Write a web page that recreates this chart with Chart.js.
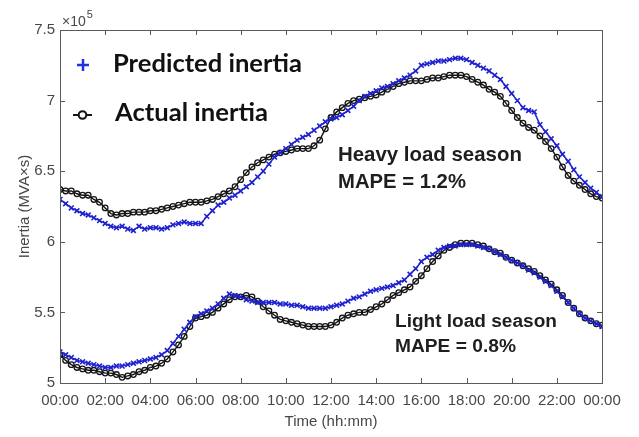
<!DOCTYPE html>
<html>
<head>
<meta charset="utf-8">
<script src="https://cdn.jsdelivr.net/npm/chart.js@4.4.1/dist/chart.umd.min.js"></script>
<style>
  html, body { margin: 0; padding: 0; background: #fff; }
  #wrap { width: 639px; height: 437px; }
</style>
</head>
<body>
<div id="wrap"><canvas id="inertia" width="639" height="437"></canvas></div>
<script>
// Inertia values in units of 1e5 MVA*s, one reading every 15 min (00:00 .. 24:00)
const STEP_H = 0.25;

const heavyActual = [
  6.37,6.36,6.36,6.34,6.33,6.33,6.30,6.28,
  6.24,6.20,6.19,6.20,6.20,6.21,6.21,6.21,
  6.22,6.22,6.23,6.24,6.25,6.26,6.27,6.28,
  6.28,6.28,6.29,6.30,6.32,6.34,6.36,6.39,
  6.44,6.49,6.53,6.56,6.58,6.60,6.62,6.63,
  6.64,6.65,6.66,6.66,6.66,6.68,6.72,6.80,
  6.88,6.92,6.95,6.98,7.00,7.01,7.02,7.03,
  7.04,7.06,7.08,7.10,7.12,7.13,7.14,7.14,
  7.14,7.15,7.16,7.16,7.17,7.18,7.18,7.18,
  7.17,7.15,7.13,7.11,7.08,7.06,7.03,6.98,
  6.93,6.88,6.84,6.81,6.79,6.75,6.71,6.66,
  6.60,6.53,6.47,6.43,6.40,6.37,6.34,6.32,
  6.31
];
const heavyPred = [
  6.30,6.27,6.24,6.22,6.20,6.19,6.17,6.15,
  6.13,6.11,6.10,6.11,6.09,6.08,6.11,6.09,
  6.10,6.10,6.09,6.10,6.12,6.13,6.14,6.13,
  6.13,6.13,6.18,6.22,6.26,6.28,6.31,6.33,
  6.36,6.39,6.42,6.46,6.50,6.55,6.60,6.63,
  6.66,6.69,6.72,6.74,6.76,6.79,6.82,6.85,
  6.87,6.88,6.90,6.93,6.96,7.00,7.03,7.05,
  7.07,7.09,7.10,7.12,7.14,7.16,7.18,7.21,
  7.25,7.26,7.27,7.28,7.28,7.29,7.30,7.30,
  7.29,7.27,7.25,7.23,7.21,7.18,7.15,7.10,
  7.05,7.00,6.95,6.93,6.92,6.83,6.78,6.73,
  6.68,6.62,6.57,6.51,6.46,6.42,6.38,6.35,
  6.32
];
const lightActual = [
  5.20,5.16,5.13,5.11,5.10,5.09,5.09,5.08,
  5.07,5.07,5.06,5.04,5.05,5.06,5.08,5.09,
  5.11,5.12,5.14,5.17,5.22,5.27,5.33,5.40,
  5.46,5.47,5.48,5.50,5.53,5.56,5.59,5.61,
  5.61,5.62,5.61,5.58,5.54,5.51,5.48,5.45,
  5.44,5.43,5.42,5.41,5.40,5.40,5.40,5.40,
  5.41,5.43,5.46,5.48,5.49,5.50,5.50,5.52,
  5.54,5.56,5.59,5.62,5.64,5.66,5.68,5.72,
  5.76,5.81,5.86,5.90,5.94,5.96,5.98,5.99,
  5.99,5.99,5.98,5.97,5.95,5.93,5.92,5.89,
  5.87,5.85,5.83,5.81,5.79,5.76,5.73,5.70,
  5.66,5.62,5.57,5.53,5.49,5.46,5.44,5.42,
  5.41
];
const lightPred = [
  5.22,5.20,5.18,5.16,5.15,5.14,5.13,5.12,
  5.11,5.11,5.12,5.12,5.13,5.14,5.15,5.16,
  5.17,5.18,5.20,5.23,5.28,5.33,5.38,5.43,
  5.47,5.49,5.51,5.53,5.56,5.60,5.63,5.62,
  5.61,5.59,5.58,5.57,5.57,5.57,5.57,5.56,
  5.56,5.55,5.55,5.54,5.53,5.53,5.53,5.53,
  5.54,5.55,5.56,5.58,5.60,5.61,5.63,5.65,
  5.66,5.67,5.68,5.69,5.71,5.73,5.77,5.81,
  5.86,5.89,5.91,5.94,5.96,5.97,5.97,5.98,
  5.98,5.98,5.97,5.96,5.95,5.93,5.91,5.89,
  5.87,5.85,5.83,5.80,5.78,5.75,5.72,5.69,
  5.65,5.61,5.57,5.53,5.49,5.46,5.44,5.42,
  5.40
];

const xTicks = [0, 2, 4, 6, 8, 10, 12, 14, 16, 18, 20, 22, 24];
const yTicks = [5, 5.5, 6, 6.5, 7, 7.5];

const BLUE = "#1f22cf";
const BLACK = "#151515";
const AXIS = "#5a5a5a";
const TICKTXT = "#474747";
const ARIAL = "'Liberation Sans', Arial, sans-serif";
const CALIBRI = "Lato, 'Open Sans', sans-serif";

const toPts = arr => arr.map((v, i) => ({ x: i * STEP_H, y: v }));
const hhmm = h => String(h % 24).padStart(2, "0") + ":00";

/* ---------- helpers for the plugin ---------- */
function fitFont(ctx, text, weight, family, targetW) {
  ctx.font = weight + " 100px " + family;
  const w = ctx.measureText(text).width;
  return weight + " " + (100 * targetW / w).toFixed(2) + "px " + family;
}
function fitText(ctx, text, family, x, y, w) {
  ctx.font = fitFont(ctx, text, "bold", family, w);
  ctx.fillText(text, x, y);
}

/* ---------- frame, inward ticks, legend, notes ---------- */
const decorations = {
  id: "decorations",
  afterDraw(chart) {
    const { ctx, chartArea: a, scales: { x, y } } = chart;
    ctx.save();

    // box + inward ticks on all sides
    ctx.strokeStyle = AXIS;
    ctx.lineWidth = 1;
    ctx.strokeRect(a.left + 0.5, a.top + 0.5, a.right - a.left, a.bottom - a.top);
    ctx.beginPath();
    xTicks.forEach(t => {
      const px = Math.round(x.getPixelForValue(t)) + 0.5;
      ctx.moveTo(px, a.bottom); ctx.lineTo(px, a.bottom - 5);
      ctx.moveTo(px, a.top); ctx.lineTo(px, a.top + 5);
    });
    yTicks.forEach(t => {
      const py = Math.round(y.getPixelForValue(t)) + 0.5;
      ctx.moveTo(a.left, py); ctx.lineTo(a.left + 5, py);
      ctx.moveTo(a.right, py); ctx.lineTo(a.right - 5, py);
    });
    ctx.stroke();

    // x10^5 exponent
    ctx.fillStyle = TICKTXT;
    ctx.textBaseline = "alphabetic";
    ctx.textAlign = "left";
    ctx.font = "14px " + ARIAL;
    ctx.fillText("\u00d710", a.left + 2, a.top - 4);
    const w10 = ctx.measureText("\u00d710").width;
    ctx.font = "11px " + ARIAL;
    ctx.fillText("5", a.left + 2 + w10 + 1, a.top - 12);

    // legend
    ctx.strokeStyle = "#2030e0";
    ctx.lineWidth = 2.5;
    ctx.beginPath();
    ctx.moveTo(77, 65); ctx.lineTo(89, 65);
    ctx.moveTo(83, 59); ctx.lineTo(83, 71);
    ctx.stroke();

    ctx.strokeStyle = BLACK;
    ctx.lineWidth = 2;
    ctx.beginPath();
    ctx.moveTo(73, 115); ctx.lineTo(92, 115);
    ctx.stroke();
    ctx.fillStyle = "#fff";
    ctx.beginPath();
    ctx.arc(82.5, 115, 3.8, 0, Math.PI * 2);
    ctx.fill(); ctx.stroke();

    ctx.fillStyle = "#111";
    fitText(ctx, "Predicted inertia", CALIBRI, 113, 72, 189);
    fitText(ctx, "Actual inertia", CALIBRI, 115, 121, 153);

    // season notes
    ctx.fillStyle = "#1e1e1e";
    fitText(ctx, "Heavy load season", ARIAL, 338, 161, 184);
    fitText(ctx, "MAPE = 1.2%", ARIAL, 338, 188, 128);
    fitText(ctx, "Light load season", ARIAL, 395, 327, 162);
    fitText(ctx, "MAPE = 0.8%", ARIAL, 395, 352, 121);

    ctx.restore();
  }
};

const blueSet = arr => ({
  data: toPts(arr),
  borderColor: BLUE,
  borderWidth: 1.5,
  pointStyle: "crossRot",
  pointRadius: 3.4,
  pointBorderWidth: 1.6,
  pointBorderColor: BLUE,
  pointBackgroundColor: BLUE,
  fill: false,
  tension: 0
});
const blackSet = arr => ({
  data: toPts(arr),
  borderColor: BLACK,
  borderWidth: 1.4,
  pointStyle: "circle",
  pointRadius: 2.8,
  pointBorderWidth: 1.3,
  pointBorderColor: BLACK,
  pointBackgroundColor: "rgba(0,0,0,0)",
  fill: false,
  tension: 0
});

new Chart(document.getElementById("inertia"), {
  type: "line",
  data: {
    // first dataset ends up on top
    datasets: [
      { label: "Predicted (heavy)", ...blueSet(heavyPred) },
      { label: "Predicted (light)", ...blueSet(lightPred) },
      { label: "Actual (heavy)", ...blackSet(heavyActual) },
      { label: "Actual (light)", ...blackSet(lightActual) }
    ]
  },
  options: {
    responsive: false,
    animation: false,
    events: [],
    layout: { padding: { top: 30, right: 37, left: 0, bottom: 0 } },
    plugins: { legend: { display: false }, tooltip: { enabled: false } },
    scales: {
      x: {
        type: "linear",
        min: 0, max: 24,
        border: { display: false },
        grid: { display: false, drawTicks: false },
        afterBuildTicks: s => { s.ticks = xTicks.map(v => ({ value: v })); },
        afterFit: s => { s.height = 54; },
        ticks: {
          padding: 9,
          color: TICKTXT,
          font: { family: ARIAL, size: 15 },
          maxRotation: 0,
          autoSkip: false,
          callback: v => hhmm(v)
        },
        title: {
          display: true,
          text: "Time (hh:mm)",
          color: TICKTXT,
          font: { family: ARIAL, size: 15 },
          padding: { top: 0, bottom: 6 }
        }
      },
      y: {
        min: 5, max: 7.5,
        border: { display: false },
        grid: { display: false, drawTicks: false },
        afterBuildTicks: s => { s.ticks = yTicks.map(v => ({ value: v })); },
        afterFit: s => { s.width = 60; },
        ticks: {
          padding: 5,
          color: TICKTXT,
          font: { family: ARIAL, size: 15 },
          callback: v => String(+v.toFixed(1))
        },
        title: {
          display: true,
          text: "Inertia (MVA\u00d7s)",
          color: TICKTXT,
          font: { family: ARIAL, size: 15 },
          padding: { top: 16, bottom: 0 }
        }
      }
    }
  },
  plugins: [decorations]
});
</script>
</body>
</html>
